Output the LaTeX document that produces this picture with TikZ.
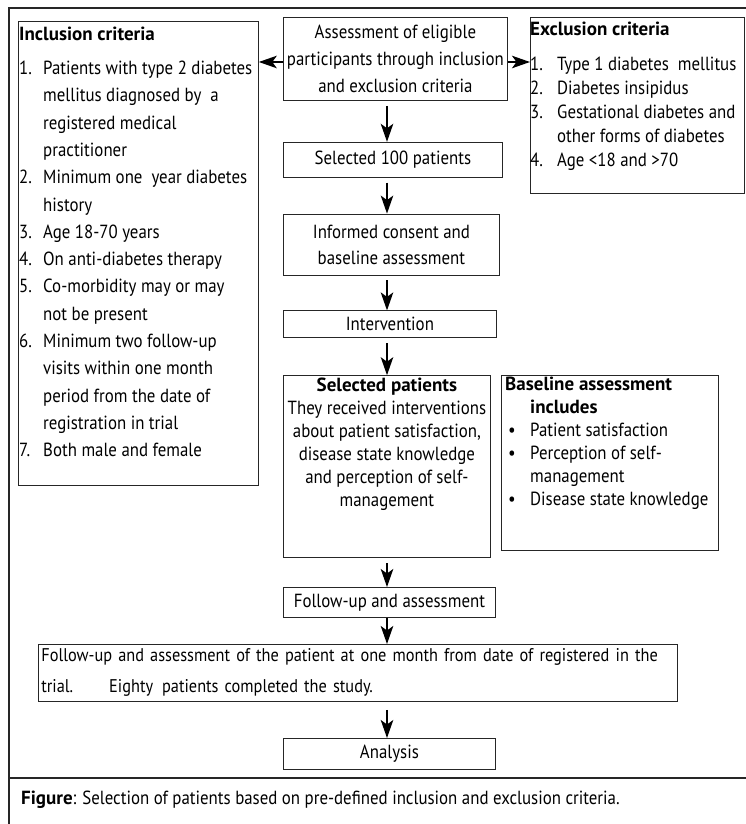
\documentclass[tikz,border=0pt]{standalone}
\usepackage{fontspec}
\setmainfont[FakeStretch=0.887]{PT Sans}
\newfontfamily\titlefont{PT Sans}
\usetikzlibrary{arrows.meta,positioning}

\begin{document}
\begin{tikzpicture}[x=1pt,y=-1pt,font=\fontsize{19}{27}\selectfont,
	box/.style={draw=black!85,line width=0.8pt,inner sep=0pt,anchor=north west,align=center},
	listtext/.style={inner sep=0pt,anchor=north west,align=left},
	arr/.style={-{Stealth[length=18pt,width=12.5pt,inset=4.5pt]},line width=1.5pt,black},
	frame/.style={line width=2pt,black!85}]
	\useasboundingbox (0,0) rectangle (746,824);
	\draw[frame] (746,8) -- (9,8) -- (9,824);
	\draw[frame] (9,778) -- (746,778);

	% middle column
	\node[box,name=assess,minimum width=224pt,minimum height=83pt] at (283,17) {Assessment of eligible\\participants through inclusion\\and exclusion criteria};
	\node[box,name=sel,minimum width=219pt,minimum height=35pt,below=41pt of assess.south west,anchor=north west] {Selected 100 patients};
	\node[box,name=consent,minimum width=216pt,minimum height=61pt,font=\fontsize{19}{26}\selectfont,below=36pt of sel.south west,anchor=north west] {Informed consent and\\baseline assessment};
	\node[box,name=interv,minimum width=213pt,minimum height=27pt,below=35pt of consent.south west,anchor=north west] {Intervention};
	\node[box,name=selpat,minimum width=207pt,minimum height=182pt,below=37pt of interv.south west,anchor=north west] {};
	\node[box,name=followup,minimum width=212pt,minimum height=30pt,below=29pt of selpat.south west,anchor=north west] {Follow-up and assessment};
	\node[box,name=trial,text width=633pt,inner xsep=3pt,minimum height=57pt,align=left,font=\fontsize{18.4}{31}\selectfont] at (38,644) {Follow-up and assessment of the patient at one month from date of registered in the\\trial.\hspace*{36pt}Eighty\hspace*{9pt}patients completed the study.};
	\node[box,name=analysis,minimum width=212pt,minimum height=31pt] at (283,738) {Analysis};

	% side boxes
	\node[box,name=incl,minimum width=240pt,minimum height=464pt] at (18,21) {};
	\node[box,name=excl,minimum width=214pt,minimum height=176pt] at (530,17) {};
	\node[box,name=base,minimum width=217pt,minimum height=175pt] at (501,375) {};

	% texts of the boxes
	\node[listtext,name=incltext,font=\fontsize{19}{27.3}\selectfont] at (19,26.5) {{\titlefont\bfseries Inclusion criteria}\\[7pt]
		\makebox[24pt][l]{1.}Patients with type 2 diabetes\\
		\hspace*{24pt}mellitus diagnosed by\ \ a\\
		\hspace*{24pt}registered medical\\
		\hspace*{24pt}practitioner\\
		\makebox[24pt][l]{2.}Minimum one\ \ year diabetes\\
		\hspace*{24pt}history\\
		\makebox[24pt][l]{3.}Age 18-70 years\\
		\makebox[24pt][l]{4.}On anti-diabetes therapy\\
		\makebox[24pt][l]{5.}Co-morbidity may or may\\
		\hspace*{24pt}not be present\\
		\makebox[24pt][l]{6.}Minimum two follow-up\\
		\hspace*{24pt}visits within one month\\
		\hspace*{24pt}period from the date of\\
		\hspace*{24pt}registration in trial\\
		\makebox[24pt][l]{7.}Both male and female};
	\node[listtext,name=excltext,font=\fontsize{19}{24}\selectfont] at (530,21.5) {{\titlefont\bfseries Exclusion criteria}\\[11pt]
		\makebox[27pt][l]{1.}Type 1 diabetes\ \ mellitus\\
		\makebox[27pt][l]{2.}Diabetes insipidus\\
		\makebox[27pt][l]{3.}Gestational diabetes and\\
		\hspace*{27pt}other forms of diabetes\\
		\makebox[27pt][l]{4.}Age <18 and >70};
	\node[listtext,name=selpattext,anchor=north,align=center,font=\fontsize{19}{23}\selectfont] at ([yshift=-2.5pt]selpat.north) {{\titlefont\bfseries Selected patients}\\
		They received interventions\\about patient satisfaction,\\disease state knowledge\\and perception of self-\\management};
	\node[listtext,name=basetext,font=\fontsize{19}{23}\selectfont] at (505,376.5) {{\titlefont\bfseries Baseline assessment}\\
		\hspace*{25pt}{\titlefont\bfseries includes}\\
		\makebox[25pt][l]{\hspace*{3pt}\textbullet}Patient satisfaction\\
		\makebox[25pt][l]{\hspace*{3pt}\textbullet}Perception of self-\\
		\hspace*{25pt}management\\
		\makebox[25pt][l]{\hspace*{3pt}\textbullet}Disease state knowledge};

	\node[listtext,name=caption,anchor=west] at (21,800) {{\titlefont\bfseries Figure}: Selection of patients based on pre-defined inclusion and exclusion criteria.};

	\coordinate (axis) at (387,0);
	\coordinate (midrow) at (0,62);
	\path[arr] (assess.west |- midrow) edge (incl.east |- midrow)
		(assess.east |- midrow) edge (excl.west |- midrow);
	\path[arr,shorten <=5pt] (assess.south -| axis) edge (sel.north -| axis)
		(sel.south -| axis) edge (consent.north -| axis)
		(consent.south -| axis) edge (interv.north -| axis)
		(interv.south -| axis) edge (selpat.north -| axis)
		(selpat.south -| axis) edge (followup.north -| axis);
	\path[arr] (followup.south -| axis) edge (trial.north -| axis)
		(trial.south -| axis) edge[shorten <=8pt] (analysis.north -| axis);
\end{tikzpicture}
\end{document}
